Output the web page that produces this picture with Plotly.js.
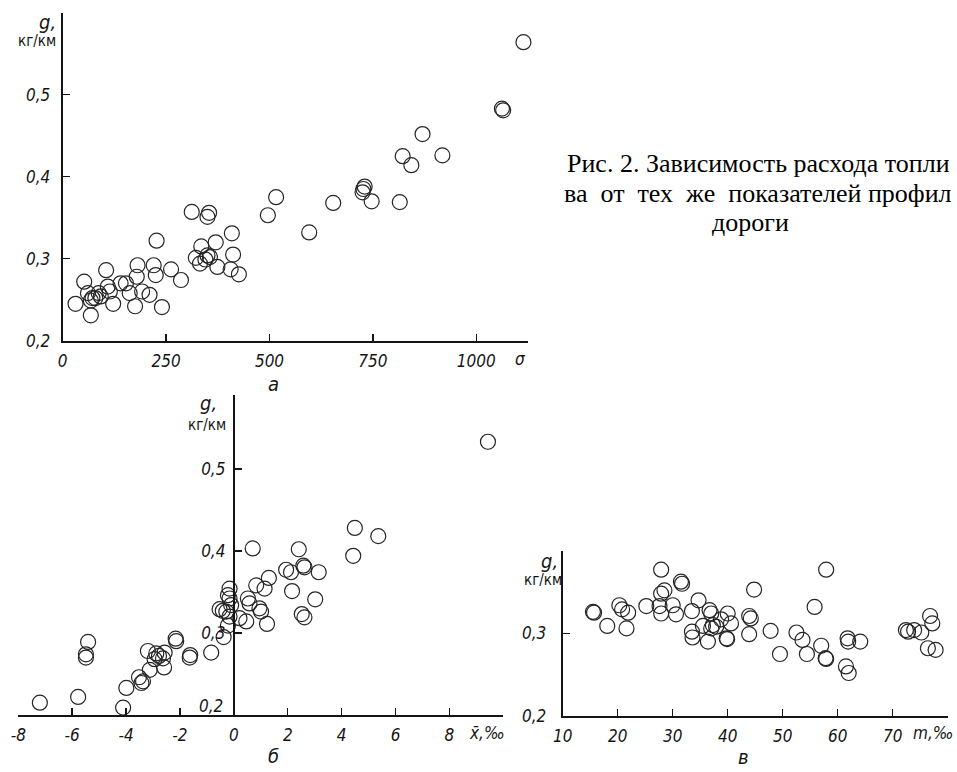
<!DOCTYPE html>
<html>
<head>
<meta charset="utf-8">
<script src="https://cdn.plot.ly/plotly-3.0.1.min.js"></script>
<style>html,body{margin:0;padding:0;background:#fff;overflow:hidden}#chart{width:957px;height:772px}</style>
</head>
<body>
<div id="chart"></div>
<script>
// Panel а: g vs sigma
const aX = [1114,1062,1065,870,822,843,918,815,727,730,725,747,654,596,516,496,312,354,350,409,370,335,322,332,350,356,345,374,412,406,426,227,220,225,262,286,240,181,179,153,162,175,192,210,105,109,114,122,52,31,68,61,72,79,87,68,92,140];
const aY = [0.564,0.483,0.481,0.452,0.425,0.414,0.426,0.369,0.385,0.388,0.381,0.370,0.368,0.332,0.375,0.353,0.357,0.356,0.351,0.331,0.320,0.315,0.301,0.294,0.304,0.302,0.299,0.290,0.305,0.287,0.281,0.322,0.292,0.280,0.287,0.274,0.241,0.292,0.278,0.270,0.258,0.242,0.260,0.256,0.286,0.266,0.260,0.245,0.272,0.245,0.231,0.258,0.252,0.252,0.258,0.249,0.254,0.270];
// Panel б: g vs mean grade x̄, ‰
const bX = [9.43,4.49,5.36,4.43,0.70,2.41,2.58,2.62,3.15,1.94,2.12,2.16,3.02,2.52,2.62,1.30,1.14,0.83,1.23,0.95,1.01,0.52,0.58,0.46,0.21,-0.16,-0.22,-0.16,-0.10,-0.28,-0.16,-0.53,-0.41,-0.22,-0.38,-0.84,-1.62,-1.64,-2.16,-2.14,-2.57,-2.63,-2.88,-2.78,-2.94,-3.19,-2.59,-3.12,-3.52,-3.37,-3.43,-3.99,-4.11,-5.41,-5.49,-5.49,-5.78,-7.20,-6.58];
const bY = [0.533,0.428,0.418,0.394,0.403,0.402,0.382,0.380,0.374,0.377,0.374,0.351,0.341,0.323,0.319,0.367,0.354,0.358,0.311,0.330,0.326,0.342,0.336,0.314,0.318,0.354,0.346,0.342,0.334,0.326,0.320,0.329,0.327,0.309,0.295,0.276,0.273,0.270,0.293,0.290,0.276,0.269,0.275,0.272,0.268,0.278,0.258,0.255,0.246,0.241,0.239,0.233,0.209,0.289,0.274,0.270,0.222,0.215,0.196];
// Panel в: g vs m, ‰
const cX = [15.5,15.7,18.1,20.3,20.8,21.9,21.6,25.2,27.9,27.9,28.5,27.6,27.9,30.0,30.6,31.5,31.7,33.5,34.7,33.5,33.6,35.5,36.4,36.7,37.0,37.3,37.9,37.0,38.8,40.0,40.6,39.8,39.9,43.9,44.2,43.9,44.8,47.8,49.5,52.5,53.6,54.4,55.8,57.0,57.8,57.9,57.9,61.8,61.9,61.5,62.0,64.1,72.4,72.8,73.9,75.2,76.8,77.2,76.4,77.8];
const cY = [0.326,0.325,0.309,0.334,0.329,0.325,0.306,0.333,0.377,0.348,0.352,0.333,0.324,0.334,0.323,0.3625,0.360,0.327,0.340,0.302,0.295,0.309,0.290,0.328,0.324,0.310,0.308,0.306,0.317,0.324,0.312,0.294,0.293,0.321,0.318,0.299,0.353,0.303,0.275,0.301,0.292,0.275,0.332,0.285,0.270,0.269,0.377,0.294,0.290,0.260,0.252,0.290,0.304,0.302,0.304,0.301,0.321,0.312,0.282,0.280];

// tick labels
const aTickVals = [0,250,500,750,1000,1125];
const aTickText = ['0','250','500','750','1000',''];
const aYTickVals = [0.2,0.3,0.4,0.5,0.6];
const aYTickText = ['0,2','0,3','0,4','0,5',''];
const bTickVals = [-8,-6,-4,-2,0,2,4,6,8,10];
const bTickText = ['-8','-6','-4','-2','0','2','4','6','8',''];
const bYTickVals = [0.2,0.3,0.4,0.5,0.59];
const bYTickText = ['','0,3','0,4','0,5',''];
const cTickVals = [10,20,30,40,50,60,70,80];
const cTickText = ['10','20','30','40','50','60','70',''];
const cYTickVals = [0.2,0.3,0.4];
const cYTickText = ['0,2','0,3',''];

const W = 957, H = 772;
const px = v => v / W;
const py = v => (H - v) / H;

const SANS = "Liberation Sans Narrow, DejaVu Sans Condensed, Liberation Sans, sans-serif";
const SERIF = "Liberation Serif, DejaVu Serif, serif";
const ink = '#151515';
const tickFont = {family: SANS, size: 17, style: 'italic', color: ink};

function axisBase(extra) {
  return Object.assign({
    showline: true, linewidth: 2, linecolor: ink, mirror: false,
    ticks: 'inside', ticklen: 7, tickwidth: 1.5, tickcolor: ink,
    showgrid: false, zeroline: false, tickfont: tickFont,
    tickmode: 'array', fixedrange: true
  }, extra);
}

const xDomB = [px(18.3), px(503.3)];
const xRangeB = [-8, 10];
const yAxisBPos = xDomB[0] + (0 - xRangeB[0]) / (xRangeB[1] - xRangeB[0]) * (xDomB[1] - xDomB[0]);

const marker = {symbol: 'circle-open', size: 15, color: '#262626', line: {width: 1.2}};

const traces = [
  {x: aX, y: aY, xaxis: 'x', yaxis: 'y', type: 'scatter', mode: 'markers', marker: marker, cliponaxis: false, hoverinfo: 'skip'},
  {x: bX, y: bY, xaxis: 'x2', yaxis: 'y2', type: 'scatter', mode: 'markers', marker: marker, cliponaxis: false, hoverinfo: 'skip'},
  {x: cX, y: cY, xaxis: 'x3', yaxis: 'y3', type: 'scatter', mode: 'markers', marker: marker, cliponaxis: false, hoverinfo: 'skip'}
];

const labFont = {family: SANS, size: 20, style: 'italic', color: ink};
const unitFont = {family: SANS, size: 15, color: ink};
const capFont = {family: SERIF, size: 26, color: '#000'};

function ann(text, x, y, font, xanchor) {
  return {text: text, x: px(x), y: py(y), xref: 'paper', yref: 'paper', showarrow: false,
          xanchor: xanchor || 'center', yanchor: 'middle', font: font};
}

const layout = {
  width: W, height: H, autosize: false,
  margin: {l: 0, r: 0, t: 0, b: 0, pad: 0},
  paper_bgcolor: '#fff', plot_bgcolor: 'rgba(0,0,0,0)',
  showlegend: false,
  xaxis: axisBase({domain: [px(62.7), px(528)], range: [0, 1125], anchor: 'y', tickvals: aTickVals, ticktext: aTickText, ticklabelstandoff: 4}),
  yaxis: axisBase({domain: [py(340.7), py(12.7)], range: [0.2, 0.6], anchor: 'x', tickvals: aYTickVals, ticktext: aYTickText, ticklabelstandoff: 7}),
  xaxis2: axisBase({domain: xDomB, range: xRangeB, anchor: 'y2', tickvals: bTickVals, ticktext: bTickText, ticklabelstandoff: 4}),
  yaxis2: axisBase({domain: [py(715), py(395)], range: [0.2, 0.59], anchor: 'free', position: yAxisBPos, side: 'left', tickvals: bYTickVals, ticktext: bYTickText, ticklabelstandoff: 4}),
  xaxis3: axisBase({domain: [px(562.7), px(947.7)], range: [10, 80], anchor: 'y3', tickvals: cTickVals, ticktext: cTickText, ticklabelstandoff: 4}),
  yaxis3: axisBase({domain: [py(716), py(550.7)], range: [0.2, 0.4], anchor: 'x3', tickvals: cYTickVals, ticktext: cYTickText, ticklabelstandoff: 11}),
  annotations: [
    ann('g,', 47, 22, labFont), ann('кг/км', 37, 41, unitFont),
    ann('g,', 208, 403, labFont), ann('кг/км', 207, 425, unitFont),
    ann('g,', 549, 561, labFont), ann('кг/км', 543, 580, unitFont),
    ann('σ', 520, 359, tickFont),
    ann('x\u0304,‰', 487, 733, tickFont),
    ann('m,‰', 933, 733, tickFont),
    ann('0,2', 225, 706, tickFont, 'right'),
    ann('а', 273, 384, labFont),
    ann('б', 273, 756, labFont),
    ann('в', 743, 757, labFont),
    ann('Рис. 2. Зависимость расхода топли', 565, 164, capFont, 'left'),
    ann('ва \u00A0от \u00A0тех \u00A0же \u00A0показателей профил', 562, 193, capFont, 'left'),
    ann('дороги', 750, 222, capFont)
  ]
};

Plotly.newPlot('chart', traces, layout, {staticPlot: true, displayModeBar: false});
</script>
</body>
</html>
